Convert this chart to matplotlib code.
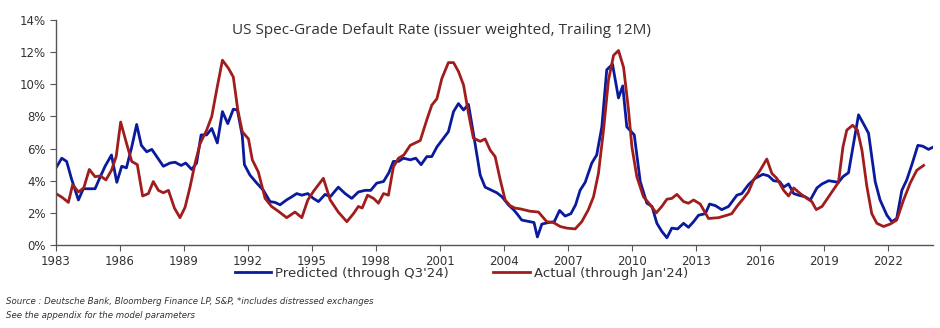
import matplotlib.pyplot as plt
from matplotlib.ticker import PercentFormatter

# Predicted default rate (decimal years, %)
pred_year = [1983.00, 1983.27, 1983.50, 1983.73, 1984.05, 1984.28, 1984.60, 1984.83,
             1985.06, 1985.30, 1985.60, 1985.85, 1986.08, 1986.30, 1986.55, 1986.78,
             1987.00, 1987.25, 1987.49, 1987.72, 1988.03, 1988.34, 1988.58, 1988.86,
             1989.08, 1989.36, 1989.59, 1989.80, 1990.06, 1990.30, 1990.56, 1990.80,
             1991.05, 1991.31, 1991.50, 1991.73, 1991.83, 1992.09, 1992.41, 1992.72,
             1993.03, 1993.27, 1993.50, 1993.80, 1994.05, 1994.28, 1994.52, 1994.80,
             1995.06, 1995.30, 1995.61, 1995.85, 1996.23, 1996.55, 1996.86, 1997.17,
             1997.49, 1997.75, 1998.03, 1998.35, 1998.60, 1998.81, 1999.05, 1999.28,
             1999.60, 1999.86, 2000.11, 2000.38, 2000.61, 2000.85, 2001.16, 2001.39,
             2001.63, 2001.86, 2002.10, 2002.33, 2002.56, 2002.88, 2003.11, 2003.42,
             2003.66, 2003.90, 2004.20, 2004.44, 2004.60, 2004.83, 2005.22, 2005.40,
             2005.56, 2005.77, 2006.08, 2006.35, 2006.60, 2006.86, 2007.13, 2007.35,
             2007.56, 2007.80, 2008.11, 2008.34, 2008.58, 2008.81, 2009.08, 2009.36,
             2009.56, 2009.75, 2010.10, 2010.38, 2010.69, 2010.93, 2011.16, 2011.39,
             2011.63, 2011.86, 2012.13, 2012.41, 2012.64, 2012.88, 2013.11, 2013.43,
             2013.63, 2013.90, 2014.20, 2014.52, 2014.91, 2015.14, 2015.45, 2015.77,
             2016.13, 2016.39, 2016.63, 2016.91, 2017.10, 2017.33, 2017.57, 2017.80,
             2018.11, 2018.35, 2018.66, 2018.90, 2019.21, 2019.44, 2019.67, 2019.88,
             2020.14, 2020.38, 2020.61, 2020.84, 2021.08, 2021.39, 2021.62, 2021.94,
             2022.17, 2022.40, 2022.64, 2022.87, 2023.11, 2023.39, 2023.62, 2023.89,
             2024.12]
pred_rate = [4.8, 5.4, 5.2, 4.1, 2.8, 3.5, 3.5, 3.5,
             4.2, 4.9, 5.6, 3.9, 4.9, 4.8, 6.1, 7.5,
             6.2, 5.8, 5.95, 5.5, 4.9, 5.1, 5.15, 4.95,
             5.1, 4.7, 5.1, 6.85, 6.85, 7.25, 6.35, 8.3,
             7.55, 8.45, 8.4, 6.8, 5.0, 4.35, 3.85, 3.4,
             2.7, 2.65, 2.5, 2.8, 3.0, 3.2, 3.1, 3.2,
             2.9, 2.7, 3.15, 3.0, 3.6, 3.2, 2.9, 3.3,
             3.4, 3.4, 3.85, 3.95, 4.5, 5.2, 5.2, 5.4,
             5.3, 5.4, 5.0, 5.5, 5.5, 6.1, 6.65, 7.05,
             8.3, 8.8, 8.4, 8.75, 6.95, 4.35, 3.6, 3.4,
             3.25, 3.0, 2.5, 2.2, 1.95, 1.55, 1.45, 1.4,
             0.5, 1.3, 1.4, 1.45, 2.15, 1.8, 1.95, 2.5,
             3.4, 3.9, 5.1, 5.6, 7.35, 10.9, 11.25, 9.15,
             9.9, 7.35, 6.85, 3.95, 2.6, 2.4, 1.35, 0.85,
             0.45, 1.05, 1.0, 1.35, 1.1, 1.45, 1.85, 1.95,
             2.55, 2.45, 2.2, 2.4, 3.1, 3.2, 3.75, 4.15,
             4.4, 4.3, 4.0, 3.95, 3.6, 3.8, 3.2, 3.1,
             3.0, 2.8, 3.55, 3.8, 4.0, 3.95, 3.9, 4.25,
             4.5, 6.35, 8.1, 7.55, 6.95, 3.95, 2.8, 1.85,
             1.45, 1.65, 3.4, 4.05, 5.0, 6.2, 6.15, 5.95,
             6.1]

# Actual default rate
act_year = [1983.00, 1983.30, 1983.58, 1983.78, 1984.05, 1984.30, 1984.56, 1984.83,
            1985.08, 1985.34, 1985.60, 1985.82, 1986.03, 1986.30, 1986.55, 1986.81,
            1987.06, 1987.33, 1987.56, 1987.80, 1988.03, 1988.27, 1988.55, 1988.81,
            1989.05, 1989.28, 1989.52, 1989.75, 1990.06, 1990.30, 1990.53, 1990.80,
            1991.08, 1991.31, 1991.52, 1991.73, 1992.02, 1992.20, 1992.48, 1992.80,
            1993.10, 1993.42, 1993.81, 1994.20, 1994.52, 1994.80, 1995.10, 1995.53,
            1995.85, 1996.23, 1996.63, 1996.94, 1997.17, 1997.35, 1997.60, 1997.88,
            1998.11, 1998.35, 1998.58, 1998.81, 1999.05, 1999.30, 1999.60, 2000.07,
            2000.38, 2000.61, 2000.85, 2001.08, 2001.39, 2001.63, 2001.86, 2002.10,
            2002.33, 2002.56, 2002.88, 2003.11, 2003.35, 2003.58, 2003.82, 2004.05,
            2004.28, 2004.50, 2004.75, 2005.22, 2005.61, 2006.00, 2006.31, 2006.63,
            2006.94, 2007.33, 2007.64, 2007.95, 2008.19, 2008.42, 2008.66, 2008.89,
            2009.13, 2009.36, 2009.60, 2009.83, 2009.99, 2010.22, 2010.53, 2010.85,
            2011.13, 2011.39, 2011.63, 2011.86, 2012.10, 2012.41, 2012.64, 2012.88,
            2013.19, 2013.58, 2014.05, 2014.44, 2014.67, 2014.91, 2015.22, 2015.45,
            2015.69, 2016.00, 2016.31, 2016.55, 2016.78, 2017.10, 2017.33, 2017.57,
            2017.88, 2018.19, 2018.42, 2018.63, 2018.90, 2019.21, 2019.67, 2019.88,
            2020.06, 2020.33, 2020.56, 2020.77, 2021.00, 2021.23, 2021.47, 2021.78,
            2022.09, 2022.40, 2022.72, 2023.03, 2023.34, 2023.66]
act_rate = [3.2, 2.95, 2.65, 3.75, 3.3, 3.55, 4.7, 4.25,
            4.3, 4.05, 4.65, 5.5, 7.65, 6.35, 5.2, 5.0,
            3.05, 3.2, 3.95, 3.4, 3.25, 3.4, 2.3, 1.7,
            2.35, 3.6, 5.1, 6.3, 7.15, 8.0, 9.65, 11.5,
            11.0, 10.45, 8.4, 7.05, 6.6, 5.3, 4.55, 2.9,
            2.4, 2.1, 1.7, 2.05, 1.7, 2.8, 3.4, 4.15,
            2.8, 2.05, 1.45, 1.95, 2.4, 2.3, 3.1, 2.9,
            2.6, 3.2, 3.1, 4.85, 5.4, 5.6, 6.2, 6.5,
            7.8, 8.7, 9.1, 10.35, 11.35, 11.35, 10.8, 9.95,
            8.2, 6.65, 6.45, 6.6, 5.9, 5.5, 4.05, 2.8,
            2.45, 2.3, 2.25, 2.1, 2.05, 1.45, 1.4, 1.15,
            1.05, 1.0, 1.45, 2.2, 3.0, 4.45, 7.15, 10.25,
            11.8, 12.1, 11.05, 8.4, 6.1, 4.25, 3.0, 2.5,
            2.0, 2.4, 2.85, 2.9, 3.15, 2.7, 2.6, 2.8,
            2.55, 1.65, 1.7, 1.85, 1.95, 2.4, 2.9, 3.3,
            4.05, 4.65, 5.35, 4.45, 4.15, 3.4, 3.05, 3.55,
            3.2, 2.9, 2.7, 2.2, 2.4, 3.0, 3.9, 6.1,
            7.15, 7.45, 7.15, 5.9, 3.65, 1.95, 1.35, 1.15,
            1.3, 1.55, 2.8, 3.85, 4.65, 4.95]

x_ticks = list(range(1983, 2023, 3))
y_ticks = [0, 2, 4, 6, 8, 10, 12, 14]

blue = "#0a1a9c"
red = "#a11d1d"
txt = "#333333"

fig = plt.figure(figsize=(9.4, 3.28), dpi=100)
ax = fig.add_axes([56 / 940, 1 - 245 / 328, (933 - 56) / 940, 225 / 328])

ax.plot(pred_year, pred_rate, color=blue, lw=2.0, label="Predicted (through Q3'24)")
ax.plot(act_year, act_rate, color=red, lw=2.0, label="Actual (through Jan'24)")

ax.set_xlim(1983, 2024.1)
ax.set_ylim(0, 14)
ax.set_xticks(x_ticks)
ax.set_yticks(y_ticks)
ax.yaxis.set_major_formatter(PercentFormatter(decimals=0))

for side in ["top", "right"]:
    ax.spines[side].set_visible(False)
for side in ["left", "bottom"]:
    ax.spines[side].set_color("#555555")
    ax.spines[side].set_linewidth(1.0)
ax.tick_params(axis="both", direction="out", length=4, color="#555555",
               labelsize=8.5, labelcolor=txt)

ax.set_title("US Spec-Grade Default Rate (issuer weighted, Trailing 12M)",
             fontsize=11, color=txt, family="Open Sans", y=0.9, x=0.44)

leg = ax.legend(loc="upper center", bbox_to_anchor=(0.462, -0.045), ncol=2,
                frameon=False, handlelength=2.8, columnspacing=3.3,
                handletextpad=0.3, prop={"size": 9.5})
for t in leg.get_texts():
    t.set_color(txt)

fig.text(0.006, 0.072, "Source : Deutsche Bank, Bloomberg Finance LP, S&P, *includes distressed exchanges",
         fontsize=6.2, style="italic", color=txt)
fig.text(0.006, 0.032, "See the appendix for the model parameters",
         fontsize=6.2, style="italic", color=txt)

fig.savefig("out.png", dpi=100)
